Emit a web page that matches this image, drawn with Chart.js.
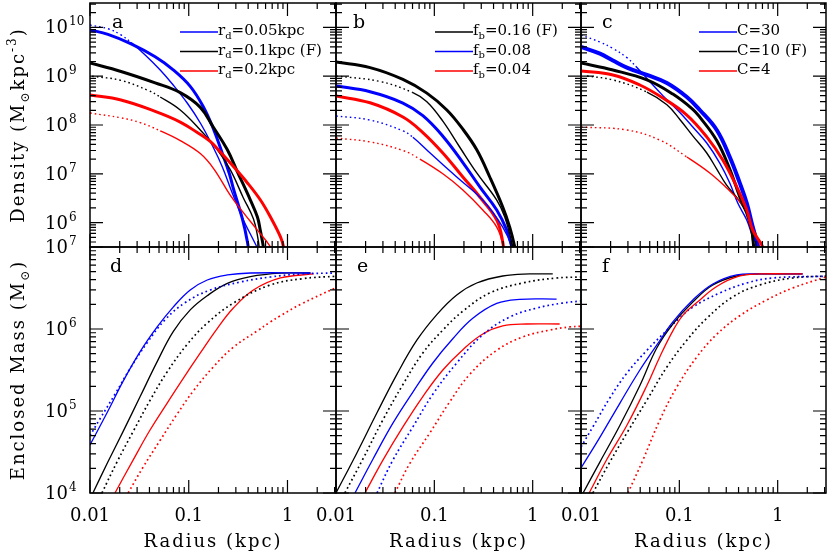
<!DOCTYPE html>
<html>
<head>
<meta charset="utf-8">
<script src="https://cdn.jsdelivr.net/npm/chart.js@4.4.1/dist/chart.umd.min.js"></script>
<style>
  body { margin: 0; background: #fff; }
  #wrap { position: relative; width: 830px; height: 554px; }
  #wrap canvas { position: absolute; left: 0; top: 0; }
</style>
</head>
<body>
<div id="wrap">
  <canvas id="pa" width="830" height="554"></canvas>
  <canvas id="pb" width="830" height="554"></canvas>
  <canvas id="pc" width="830" height="554"></canvas>
  <canvas id="pd" width="830" height="554"></canvas>
  <canvas id="pe" width="830" height="554"></canvas>
  <canvas id="pf" width="830" height="554"></canvas>
</div>
<script>
// ---- tick labels ----
var xTickLabels = [0.01, 0.1, 1];
var densityTicks = [1e6, 1e7, 1e8, 1e9, 1e10];
var massTicks = [1e4, 1e5, 1e6, 1e7];

// ---- panel a: density, disc scale length ([radius kpc, density]) ----
var aBlueThick = [[0.01,8.9e9],[0.0152,7.2e9],[0.0261,4.6e9],[0.0457,2.5e9],[0.0696,1.35e9],[0.1035,6.2e8],[0.14,2.4e8],[0.177,8.5e7],[0.219,2.6e7],[0.258,1.0e7],[0.283,5.0e6],[0.349,1.2e6],[0.393,4.0e5],[0.42,1.5e5]];
var aBlueThin = [[0.01,1.12e10],[0.0152,9.4e9],[0.0206,7.0e9],[0.0261,4.9e9],[0.0362,2.72e9],[0.0514,1.34e9],[0.0696,6.6e8],[0.0965,2.82e8],[0.131,1.1e8],[0.177,3.5e7],[0.219,1.38e7],[0.2765,4.0e6],[0.3575,1.13e6],[0.4516,4.4e5],[0.52,2.4e5],[0.56,1.5e5]];
var aBlackThick = [[0.01,1.86e9],[0.0206,1.25e9],[0.0457,7.3e8],[0.082,4.6e8],[0.131,2.3e8],[0.177,9.1e7],[0.246,3.1e7],[0.311,1.1e7],[0.421,2.9e6],[0.496,1.3e6],[0.53,7.0e5],[0.57,3.2e5],[0.6,1.5e5]];
var aBlackThin = [[0.0105,1.0e9],[0.0206,8.2e8],[0.0388,5.1e8],[0.0514,3.75e8],[0.082,2.03e8],[0.131,7.9e7],[0.195,3.1e7],[0.264,1.2e7],[0.3575,3.2e6],[0.4516,1.2e6],[0.5,5.0e5],[0.53,2.0e5]];
var aRedThick = [[0.01,4.12e8],[0.0206,3.25e8],[0.0457,1.9e8],[0.082,1.15e8],[0.122,7.0e7],[0.165,4.6e7],[0.209,2.8e7],[0.264,1.66e7],[0.393,6.5e6],[0.532,2.9e6],[0.672,1.3e6],[0.849,5.1e5],[0.911,3.2e5],[0.95,1.5e5]];
var aRedThin = [[0.01,1.76e8],[0.0206,1.4e8],[0.0322,1.12e8],[0.0514,7.6e7],[0.082,4.8e7],[0.131,2.6e7],[0.18,1.25e7],[0.264,3.6e6],[0.3575,1.6e6],[0.496,7.0e5],[0.672,3.2e5],[0.75,1.8e5]];

// ---- panel b: density, baryon fraction ----
var bBlackThick = [[0.01,1.95e9],[0.0222,1.5e9],[0.0479,8.6e8],[0.0839,4.5e8],[0.134,2.03e8],[0.195,8.2e7],[0.27,3.1e7],[0.366,8.6e6],[0.496,2.09e6],[0.584,8.1e5],[0.657,3.2e5],[0.7,1.5e5]];
var bBlackThin = [[0.01,1.01e9],[0.028,7.8e8],[0.0605,4.6e8],[0.0839,3.0e8],[0.122,1.2e8],[0.1815,3.5e7],[0.27,1.04e7],[0.431,2.9e6],[0.52,1.3e6],[0.627,3.2e5],[0.67,1.5e5]];
var bBlueThick = [[0.01,6.3e8],[0.0222,4.8e8],[0.0479,2.82e8],[0.0764,1.55e8],[0.122,5.9e7],[0.195,1.7e7],[0.29,5.4e6],[0.431,1.81e6],[0.545,7.0e5],[0.612,3.2e5],[0.65,1.5e5]];
var bBlueThin = [[0.01,1.53e8],[0.0222,1.26e8],[0.0479,7.6e7],[0.0605,5.6e7],[0.09,2.7e7],[0.169,8.6e6],[0.31,2.9e6],[0.496,8.1e5],[0.612,3.2e5],[0.65,1.5e5]];
var bRedThick = [[0.01,3.93e8],[0.0222,2.85e8],[0.0479,1.46e8],[0.0764,7.0e7],[0.122,2.67e7],[0.195,8.6e6],[0.29,3.35e6],[0.431,1.13e6],[0.496,4.0e5],[0.52,1.5e5]];
var bRedThin = [[0.01,5.4e7],[0.0222,4.5e7],[0.0479,3.0e7],[0.0713,2.0e7],[0.122,1.0e7],[0.195,4.66e6],[0.311,1.81e6],[0.431,8.1e5],[0.496,3.6e5],[0.52,1.5e5]];

// ---- panel c: density, concentration ----
var cBlueThick = [[0.01,3.97e9],[0.0156,2.9e9],[0.0211,2.1e9],[0.0293,1.5e9],[0.0468,1.06e9],[0.0747,7.26e8],[0.1192,3.75e8],[0.1615,2.03e8],[0.24,7.9e7],[0.3256,2.21e7],[0.4113,6.5e6],[0.4846,2.52e6],[0.5445,9.8e5],[0.6266,3.2e5],[0.66,1.5e5]];
var cBlueThin = [[0.01,6.99e9],[0.0156,5.0e9],[0.0211,3.7e9],[0.0293,2.4e9],[0.036,1.6e9],[0.0468,9.0e8],[0.068,4.0e8],[0.1012,1.8e8],[0.137,9.1e7],[0.19,4.28e7],[0.2577,1.66e7],[0.3256,6.5e6],[0.3926,2.52e6],[0.4846,1.13e6],[0.5576,5.1e5],[0.6266,3.2e5],[0.66,1.5e5]];
var cBlackThick = [[0.01,1.86e9],[0.0211,1.34e9],[0.0468,8.4e8],[0.0859,4.3e8],[0.137,2.1e8],[0.1615,1.45e8],[0.24,4.8e7],[0.3256,1.25e7],[0.4113,3.4e6],[0.4846,1.57e6],[0.5445,7.0e5],[0.5705,3.2e5],[0.6,1.5e5]];
var cBlackThin = [[0.0115,1.01e9],[0.0211,8.4e8],[0.0468,4.74e8],[0.0747,2.6e8],[0.1012,1.3e8],[0.137,6.0e7],[0.19,2.67e7],[0.24,1.25e7],[0.3,6.0e6],[0.4113,2.7e6],[0.5196,1.1e6],[0.5576,4.0e5],[0.58,1.5e5]];
var cRedThick = [[0.01,1.28e9],[0.0211,1.06e9],[0.0397,6.6e8],[0.068,3.57e8],[0.1192,1.6e8],[0.19,5.7e7],[0.2765,1.92e7],[0.3835,5.4e6],[0.4846,1.81e6],[0.5576,7.0e5],[0.704,3.2e5],[0.75,1.8e5]];
var cRedThin = [[0.01,9.1e7],[0.0293,7.9e7],[0.0634,4.9e7],[0.1192,2.21e7],[0.204,1.04e7],[0.3035,5.1e6],[0.4113,2.7e6],[0.5196,1.3e6],[0.657,3.2e5],[0.7,1.8e5]];

// ---- panel d: enclosed mass, disc scale length ([radius kpc, mass]) ----
var dBlueSolid = [[0.01,3.85e4],[0.0152,1.0e5],[0.0216,2.3e5],[0.0322,5.3e5],[0.0479,1.06e6],[0.0696,1.85e6],[0.1035,2.99e6],[0.154,3.96e6],[0.246,4.56e6],[0.421,4.82e6],[1.71,4.82e6]];
var dBlueDotted = [[0.01,5.0e4],[0.0126,8.0e4],[0.0179,1.6e5],[0.0255,3.3e5],[0.0379,6.8e5],[0.0577,1.3e6],[0.0922,2.1e6],[0.165,2.99e6],[0.333,3.74e6],[0.672,4.31e6],[1.355,4.69e6],[3.1,4.82e6]];
var dBlackSolid = [[0.0107,1e4],[0.0152,2.4e4],[0.0216,5.6e4],[0.0322,1.5e5],[0.0479,4.0e5],[0.0696,9.3e5],[0.1035,1.71e6],[0.154,2.55e6],[0.246,3.6e6],[0.421,4.35e6],[0.849,4.8e6],[1.71,4.82e6]];
var dBlackDotted = [[0.0132,1e4],[0.0188,2.4e4],[0.0273,5.6e4],[0.0407,1.36e5],[0.0605,3.0e5],[0.0965,6.5e5],[0.154,1.18e6],[0.283,2.07e6],[0.65,3.4e6],[1.4,4.1e6],[3.1,4.4e6]];
var dRedSolid = [[0.0179,1e4],[0.0273,2.52e4],[0.0407,5.9e4],[0.0605,1.25e5],[0.088,2.5e5],[0.131,5.1e5],[0.195,1.02e6],[0.283,1.8e6],[0.4516,2.99e6],[0.849,4.19e6],[1.84,4.69e6]];
var dRedDotted = [[0.0243,1e4],[0.0345,2.07e4],[0.0514,4.4e4],[0.0764,9.2e4],[0.111,1.75e5],[0.177,3.44e5],[0.283,6.0e5],[0.496,9.5e5],[0.672,1.22e6],[0.849,1.45e6],[1.355,2.0e6],[3.1,3.2e6]];

// ---- panel e: enclosed mass, baryon fraction ----
var eBlackSolid = [[0.01,1e4],[0.0163,3.08e4],[0.0261,9.5e4],[0.0416,2.8e5],[0.0664,7.3e5],[0.106,1.5e6],[0.169,2.6e6],[0.27,3.64e6],[0.496,4.43e6],[0.93,4.69e6],[1.6,4.69e6]];
var eBlackDotted = [[0.0123,1e4],[0.0188,2.6e4],[0.03,7.8e4],[0.0479,2.1e5],[0.0764,5.1e5],[0.122,9.7e5],[0.195,1.65e6],[0.366,2.75e6],[0.792,3.64e6],[1.75,4.19e6],[3.1,4.3e6]];
var eBlueSolid = [[0.0156,1e4],[0.0238,2.6e4],[0.0379,7.1e4],[0.0605,1.7e5],[0.0965,3.85e5],[0.154,7.6e5],[0.246,1.35e6],[0.431,2.05e6],[0.738,2.3e6],[1.75,2.32e6]];
var eBlueDotted = [[0.0261,1e4],[0.0379,2.52e4],[0.0605,6.4e4],[0.0965,1.6e5],[0.169,3.85e5],[0.311,8.5e5],[0.584,1.4e6],[1.1,1.8e6],[2.0,2.07e6],[3.1,2.2e6]];
var eRedSolid = [[0.0197,1e4],[0.03,2.52e4],[0.0479,6.4e4],[0.0764,1.5e5],[0.122,3.16e5],[0.195,5.6e5],[0.311,8.7e5],[0.496,1.09e6],[0.87,1.15e6],[1.88,1.15e6]];
var eRedDotted = [[0.0397,1e4],[0.0564,2.3e4],[0.09,5.4e4],[0.1437,1.3e5],[0.2293,2.8e5],[0.431,5.5e5],[0.792,8.0e5],[1.49,9.7e5],[2.375,1.06e6],[3.1,1.08e6]];

// ---- panel f: enclosed mass, concentration ----
var fBlueSolid = [[0.01,2.02e4],[0.0156,4.8e4],[0.0249,1.25e5],[0.0397,3.16e5],[0.0591,6.4e5],[0.0859,1.22e6],[0.137,2.26e6],[0.219,3.54e6],[0.3835,4.56e6],[0.657,4.69e6],[1.79,4.69e6]];
var fBlueDotted = [[0.01,3.64e4],[0.0132,6.4e4],[0.0197,1.45e5],[0.0293,2.9e5],[0.0468,5.5e5],[0.075,9.7e5],[0.1,1.35e6],[0.137,1.85e6],[0.2577,2.75e6],[0.4846,3.64e6],[0.89,4.19e6],[3.1,4.4e6]];
var fBlackSolid = [[0.0105,1e4],[0.0156,2.4e4],[0.0249,6.7e4],[0.0397,2.05e5],[0.0591,5.9e5],[0.0859,1.15e6],[0.137,2.13e6],[0.219,3.44e6],[0.3835,4.43e6],[0.657,4.69e6],[1.79,4.69e6]];
var fBlackDotted = [[0.0132,1e4],[0.0197,2.4e4],[0.0293,5.4e4],[0.0468,1.36e5],[0.0747,3.44e5],[0.1192,7.3e5],[0.19,1.35e6],[0.349,2.46e6],[0.657,3.44e6],[1.42,4.19e6],[3.1,4.43e6]];
var fRedSolid = [[0.0121,1e4],[0.0184,2.6e4],[0.0293,6.7e4],[0.0468,2.05e5],[0.0634,4.6e5],[0.0859,9.5e5],[0.11,1.5e6],[0.1506,2.1e6],[0.24,3.3e6],[0.4113,4.43e6],[0.657,4.69e6],[1.79,4.69e6]];
var fRedDotted = [[0.03,1e4],[0.0426,2.52e4],[0.0634,7.8e4],[0.0943,1.96e5],[0.1506,4.56e5],[0.24,8.6e5],[0.4113,1.45e6],[0.773,2.26e6],[1.42,3.16e6],[3.1,4.31e6]];

// ---- legends ----
var legendA = [['r', 'd', '=0.05kpc'], ['r', 'd', '=0.1kpc (F)'], ['r', 'd', '=0.2kpc']];
var legendB = [['f', 'b', '=0.16 (F)'], ['f', 'b', '=0.08'], ['f', 'b', '=0.04']];
var legendC = [['C=30', '', ''], ['C=10 (F)', '', ''], ['C=4', '', '']];

var BLUE = '#0000ff', BLACK = '#000000', RED = '#ff0000';
var SERIF = '"DejaVu Serif", "Liberation Serif", serif';
var W = 830, H = 554;
var cols = [[90, 336], [336, 581], [581, 826]];
var rows = [[3, 247], [247, 493]];

function pts(arr) {
    return arr.map(function (p) { return { x: p[0], y: p[1] }; });
}
function thick(arr, color, w) {
    return { data: pts(arr), borderColor: color, borderWidth: w || 3, fill: false };
}
// thin line that is dotted at small radius
function thin(arr, color, dotTo) {
    return {
        data: pts(arr), borderColor: color, borderWidth: 1.4, fill: false,
        segment: { borderDash: function (c) { return c.p0.parsed.x < dotTo ? [1.6, 3] : undefined; } }
    };
}
function solid(arr, color) {
    return { data: pts(arr), borderColor: color, borderWidth: 1.3, fill: false };
}
function dotted(arr, color) {
    return { data: pts(arr), borderColor: color, borderWidth: 1.7, borderDash: [1.7, 3], fill: false };
}

function logTicks(min, max) {
    var out = [];
    for (var e = Math.floor(Math.log10(min)); e <= Math.ceil(Math.log10(max)); e++) {
        for (var m = 1; m < 10; m++) {
            var v = m * Math.pow(10, e);
            if (v >= min * 0.999 && v <= max * 1.001) out.push({ v: v, major: m === 1 });
        }
    }
    return out;
}

// text made of pieces: [text, 0 normal | 1 superscript | -1 subscript]
function drawRich(ctx, parts, x, y, size, doDraw) {
    var cx = x;
    parts.forEach(function (p) {
        var fs = p[1] ? Math.round(size * 0.65) : size;
        ctx.font = fs + 'px ' + SERIF;
        var dy = p[1] === 1 ? -size * 0.42 : (p[1] === -1 ? size * 0.25 : 0);
        if (doDraw !== false) ctx.fillText(p[0], cx, y + dy);
        cx += ctx.measureText(p[0]).width;
    });
    return cx - x;
}

var densityTitle = [['Density (M', 0], ['\u2299', -1], ['kpc', 0], ['-3', 1], [')', 0]];
var massTitle = [['Enclosed Mass (M', 0], ['\u2299', -1], [')', 0]];
var xTitle = 'Radius (kpc)';

function panelPlugin(p) {
    return {
        id: 'panel_' + p.letter,
        afterDraw: function (chart) {
            var ctx = chart.ctx, a = chart.chartArea;
            var xs = chart.scales.x, ys = chart.scales.y;
            ctx.save();
            // ticks, all four sides, pointing in
            ctx.strokeStyle = '#000';
            ctx.lineWidth = 1.2;
            ctx.beginPath();
            logTicks(xs.min, xs.max).forEach(function (t) {
                var px = xs.getPixelForValue(t.v), len = t.major ? 13 : 6;
                ctx.moveTo(px, a.bottom); ctx.lineTo(px, a.bottom - len);
                ctx.moveTo(px, a.top); ctx.lineTo(px, a.top + len);
            });
            logTicks(ys.min, ys.max).forEach(function (t) {
                var py = ys.getPixelForValue(t.v), len = t.major ? 13 : 6;
                ctx.moveTo(a.left, py); ctx.lineTo(a.left + len, py);
                ctx.moveTo(a.right, py); ctx.lineTo(a.right - len, py);
            });
            ctx.stroke();
            ctx.lineWidth = 1.5;
            ctx.strokeRect(a.left, a.top, a.right - a.left, a.bottom - a.top);

            ctx.fillStyle = '#000';
            ctx.textBaseline = 'alphabetic';
            ctx.textAlign = 'left';
            // panel letter
            ctx.font = '19px ' + SERIF;
            ctx.fillText(p.letter, a.left + p.letterDx, a.top + 25);

            // legend
            if (p.legend) {
                p.legend.forEach(function (L, i) {
                    var y = p.legY + i * 19.5;
                    ctx.strokeStyle = p.legColors[i];
                    ctx.lineWidth = 1.4;
                    ctx.beginPath();
                    ctx.moveTo(p.legX, y); ctx.lineTo(p.legX + 38, y);
                    ctx.stroke();
                    ctx.fillStyle = '#000';
                    var parts = [[L[0], 0]];
                    if (L[1]) parts.push([L[1], -1]);
                    if (L[2]) parts.push([L[2], 0]);
                    drawRich(ctx, parts, p.legX + 38, y + 3, 15);
                });
            }

            // y tick labels on the left column
            if (p.col === 0) {
                p.yLabels.forEach(function (v) {
                    var py = ys.getPixelForValue(v);
                    var ex = Math.round(Math.log10(v));
                    ctx.font = '18px ' + SERIF;
                    ctx.textAlign = 'right';
                    ctx.fillText('10', 68, py + 6);
                    ctx.font = '12px ' + SERIF;
                    ctx.textAlign = 'left';
                    ctx.fillText(String(ex), 69, py - 2);
                });
                // axis title
                ctx.save();
                ctx.letterSpacing = '2px';
                var parts = p.row === 0 ? densityTitle : massTitle;
                var w = drawRich(ctx, parts, 0, 0, 18, false);
                ctx.translate(18, (a.top + a.bottom) / 2);
                ctx.rotate(-Math.PI / 2);
                ctx.textAlign = 'left';
                drawRich(ctx, parts, -w / 2, 6, 18);
                ctx.restore();
            }

            // x tick labels and title on the bottom row
            if (p.row === 1) {
                ctx.font = '18px ' + SERIF;
                ctx.textAlign = 'center';
                xTickLabels.forEach(function (v) {
                    ctx.fillText(String(v), xs.getPixelForValue(v), 521);
                });
                ctx.save();
                ctx.letterSpacing = '2px';
                ctx.fillText(xTitle, (a.left + a.right) / 2, 547);
                ctx.restore();
            }
            ctx.restore();
        }
    };
}

var panels = [
    { id: 'pa', col: 0, row: 0, letter: 'a', letterDx: 22, ymin: Math.pow(10, 5.5), ymax: Math.pow(10, 10.5), yLabels: densityTicks,
      legend: legendA, legColors: [BLUE, BLACK, RED], legX: 180, legY: 32,
      sets: [thick(aRedThick, RED), thin(aRedThin, RED, 0.05), thick(aBlackThick, BLACK), thin(aBlackThin, BLACK, 0.04),
             thick(aBlueThick, BLUE), thin(aBlueThin, BLUE, 0.026)] },
    { id: 'pb', col: 1, row: 0, letter: 'b', letterDx: 17, ymin: Math.pow(10, 5.5), ymax: Math.pow(10, 10.5),
      legend: legendB, legColors: [BLACK, BLUE, RED], legX: 435, legY: 32,
      sets: [thick(bBlackThick, BLACK), thin(bBlackThin, BLACK, 0.03), thick(bBlueThick, BLUE), thin(bBlueThin, BLUE, 0.055),
             thick(bRedThick, RED), thin(bRedThin, RED, 0.06)] },
    { id: 'pc', col: 2, row: 0, letter: 'c', letterDx: 21, ymin: Math.pow(10, 5.5), ymax: Math.pow(10, 10.5),
      legend: legendC, legColors: [BLUE, BLACK, RED], legX: 699, legY: 32,
      sets: [thick(cRedThick, RED), thick(cBlackThick, BLACK), thick(cBlueThick, BLUE, 4), thin(cRedThin, RED, 0.07),
             thin(cBlackThin, BLACK, 0.03), thin(cBlueThin, BLUE, 0.03)] },
    { id: 'pd', col: 0, row: 1, letter: 'd', letterDx: 20, ymin: 1e4, ymax: 1e7, yLabels: massTicks,
      sets: [solid(dBlueSolid, BLUE), dotted(dBlueDotted, BLUE), solid(dBlackSolid, BLACK), dotted(dBlackDotted, BLACK),
             solid(dRedSolid, RED), dotted(dRedDotted, RED)] },
    { id: 'pe', col: 1, row: 1, letter: 'e', letterDx: 21, ymin: 1e4, ymax: 1e7,
      sets: [solid(eBlackSolid, BLACK), dotted(eBlackDotted, BLACK), solid(eBlueSolid, BLUE), dotted(eBlueDotted, BLUE),
             solid(eRedSolid, RED), dotted(eRedDotted, RED)] },
    { id: 'pf', col: 2, row: 1, letter: 'f', letterDx: 21, ymin: 1e4, ymax: 1e7,
      sets: [solid(fRedSolid, RED), solid(fBlueSolid, BLUE), solid(fBlackSolid, BLACK), dotted(fBlueDotted, BLUE),
             dotted(fBlackDotted, BLACK), dotted(fRedDotted, RED)] }
];

panels.forEach(function (p) {
    var c = cols[p.col], r = rows[p.row];
    new Chart(document.getElementById(p.id), {
        type: 'line',
        data: { datasets: p.sets },
        options: {
            responsive: false,
            animation: false,
            devicePixelRatio: 1,
            layout: { padding: { left: c[0], right: W - c[1], top: r[0], bottom: H - r[1] } },
            plugins: { legend: { display: false }, tooltip: { enabled: false } },
            elements: { point: { radius: 0 }, line: { tension: 0.4, capBezierPoints: false } },
            scales: {
                x: { type: 'logarithmic', min: 0.01, max: 3.1, display: false },
                y: { type: 'logarithmic', min: p.ymin, max: p.ymax, display: false }
            }
        },
        plugins: [panelPlugin(p)]
    });
});
</script>
</body>
</html>
